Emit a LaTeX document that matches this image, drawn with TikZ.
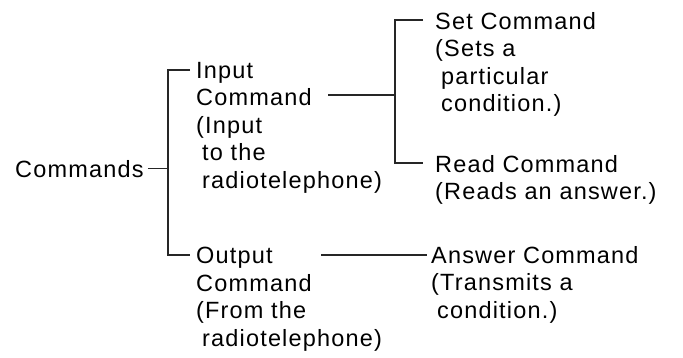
\documentclass[tikz,border=0pt]{standalone}
\usepackage{fontspec}
\setmainfont{Liberation Sans}[LetterSpace=5]
\usetikzlibrary{calc}
\newcommand{\ind}{\hspace*{6pt}}

\begin{document}
\begin{tikzpicture}[x=1pt, y=-1pt, font=\fontsize{23.5}{27.5}\selectfont,
    lbl/.style={anchor=north west, inner sep=0pt, align=left},
    link/.style={draw=black!85, line width=1.2pt}]
  \useasboundingbox (0,0) rectangle (683,358);

  \node[lbl] (cmds) at (15,160) {Commands};
  \node[lbl] (inp) at (196,62)
    {Input\\Command\\(Input\\\ind to the\\\ind radiotelephone)};
  \node[lbl] (outp) at (196,247)
    {Output\\Command\\(From the\\\ind radiotelephone)};
  \node[lbl] (set) at (435,12)
    {Set Command\\(Sets a\\\ind particular\\\ind condition.)};
  \node[lbl] (read) at (435,155) {Read Command\\(Reads an answer.)};
  \node[lbl] (ans) at (431,246)
    {Answer Command\\(Transmits a\\\ind condition.)};

  % brackets
  \coordinate (brL) at ($(inp.north west)+(-28,0)$);
  \coordinate (brR) at ($(set.north west)+(-40,0)$);
  \draw[link] ($(inp.north west)+(-6,8)$) -- ($(inp.north west)+(-28,8)$)
    |- ($(outp.north west)+(-6,8)$);
  \draw[link] ([xshift=4pt]cmds.east) -- (cmds.east -| brL);
  \draw[link] ($(set.north west)+(-12,8)$) -- ($(set.north west)+(-40,8)$)
    |- ($(read.north west)+(-12,8)$);

  % links to the right
  \coordinate (inpC) at ($(inp.north west)+(132,33)$);
  \draw[link] (inpC) -- (inpC -| brR);
  \coordinate (outpC) at ($(outp.north west)+(125,8)$);
  \coordinate (ansW) at ([xshift=-4pt]ans.north west);
  \draw[link] (outpC) -- (outpC -| ansW);
\end{tikzpicture}
\end{document}
